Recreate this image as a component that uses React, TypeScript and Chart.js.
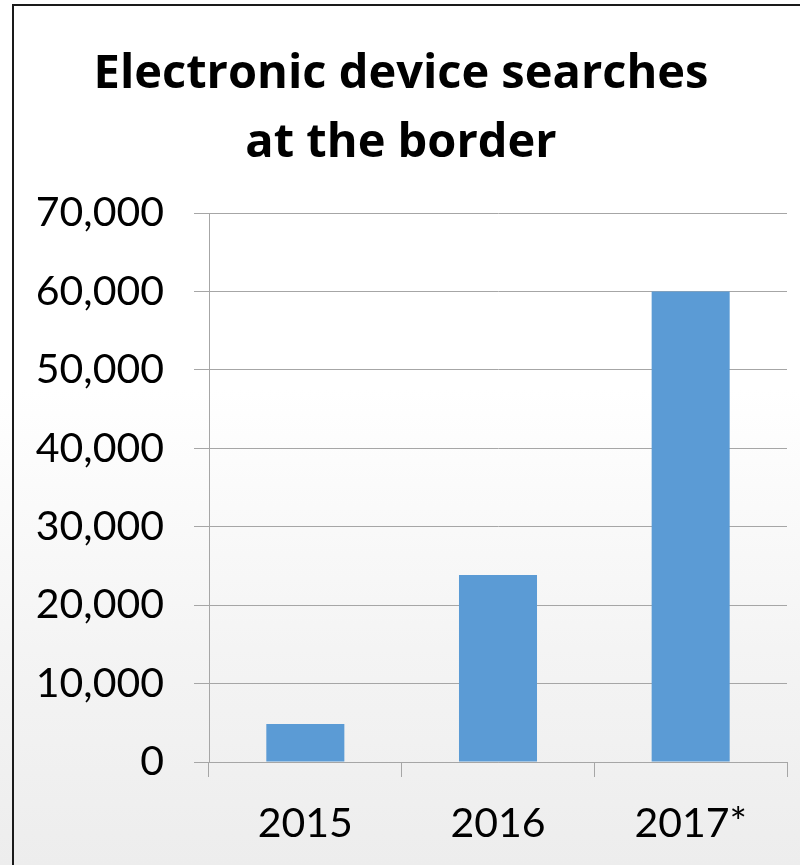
import React, { useEffect, useRef } from "react";
import { Chart, registerables } from "chart.js";

Chart.register(...registerables);

const categories = ["2015", "2016", "2017*"];
const searches = [4850, 23850, 60000];
const titleLines = ["Electronic device searches", "at the border"];
const yMax = 70000;
const yStep = 10000;

export default function App() {
  const ref = useRef<HTMLCanvasElement | null>(null);

  useEffect(() => {
    if (!ref.current) return;
    const chart = new Chart(ref.current, {
      type: "bar",
      data: {
        labels: categories,
        datasets: [
          {
            label: "Searches",
            data: searches,
            backgroundColor: "#5b9bd5",
            borderWidth: 0,
            barPercentage: 0.405,
            categoryPercentage: 1,
          },
        ],
      },
      options: {
        animation: false,
        responsive: true,
        maintainAspectRatio: false,
        layout: { padding: { left: 0, right: 13, top: 0, bottom: 0 } },
        plugins: {
          legend: { display: false },
          tooltip: { enabled: false },
          title: {
            display: true,
            text: titleLines,
            color: "#000",
            font: { family: "Open Sans", size: 47, weight: "bold", lineHeight: 1.45 },
            padding: { top: 34, bottom: 35.7 },
          },
        },
        scales: {
          x: {
            grid: {
              display: true,
              offset: true,
              drawOnChartArea: false,
              drawTicks: true,
              tickLength: 15,
              color: "#a6a6a6",
              lineWidth: 1,
            },
            border: { display: true, color: "#a6a6a6", width: 1 },
            ticks: {
              color: "#000",
              font: { family: "Lato", size: 41 },
              padding: 22,
              maxRotation: 0,
            },
            afterFit: (s: any) => {
              s.height = 103;
            },
          },
          y: {
            min: 0,
            max: yMax,
            grid: {
              color: "#a6a6a6",
              lineWidth: 1,
              drawTicks: true,
              tickLength: 15,
            },
            border: { display: true, color: "#a6a6a6", width: 1 },
            ticks: {
              stepSize: yStep,
              color: "#000",
              font: { family: "Lato", size: 41 },
              padding: 30,
              callback: (v: any) => Number(v).toLocaleString("en-US"),
            },
            afterFit: (s: any) => {
              s.width = 194;
            },
          },
        },
      },
    });
    return () => chart.destroy();
  }, []);

  return (
    <div
      style={{
        position: "absolute",
        left: 0,
        top: 0,
        width: 800,
        height: 865,
        overflow: "hidden",
        background:
          "linear-gradient(to bottom, #ffffff 0%, #ffffff 45%, #f4f4f4 75%, #ededed 100%)",
      }}
    >
      <div
        style={{
          position: "absolute",
          left: 12,
          top: 4,
          width: 800,
          height: 870,
          borderLeft: "2px solid #1a1a1a",
          borderTop: "2px solid #1a1a1a",
        }}
      />
      <div style={{ position: "absolute", left: 15, top: 7, width: 785, height: 858 }}>
        <canvas ref={ref} />
      </div>
    </div>
  );
}
